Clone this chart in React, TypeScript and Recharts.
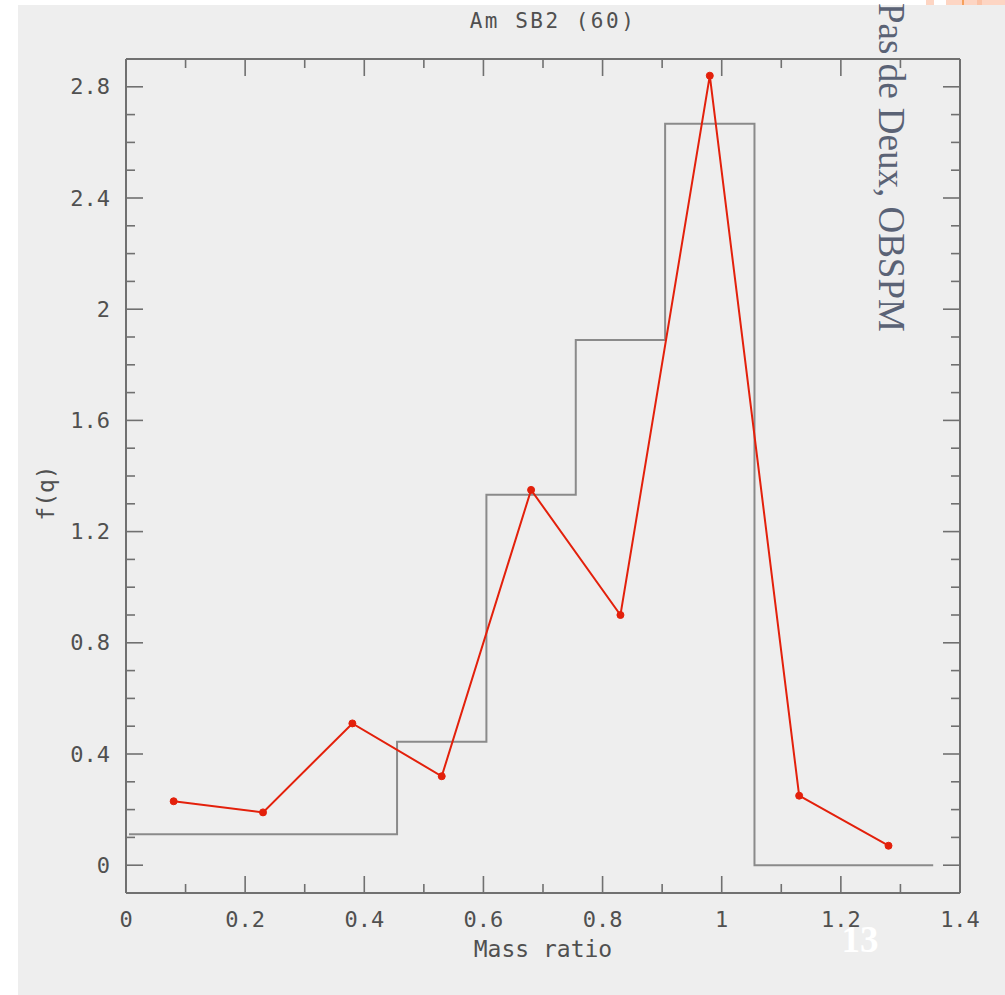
import React from 'react'
import { ComposedChart, Line, XAxis, YAxis } from 'recharts'

// histogram bins (width 0.15) and their f(q) levels
const binEdges = [0.005, 0.155, 0.305, 0.455, 0.605, 0.755, 0.905, 1.055, 1.205, 1.355]
const binHeights = [0.111, 0.111, 0.111, 0.444, 1.333, 1.889, 2.667, 0, 0]

// red curve
const massRatio = [0.08, 0.23, 0.38, 0.53, 0.68, 0.83, 0.98, 1.13, 1.28]
const fq = [0.23, 0.19, 0.51, 0.32, 1.35, 0.9, 2.84, 0.25, 0.07]

const xTicks = [0, 0.1, 0.2, 0.3, 0.4, 0.5, 0.6, 0.7, 0.8, 0.9, 1, 1.1, 1.2, 1.3, 1.4]
const yTicks = [
  -0.1, 0, 0.1, 0.2, 0.3, 0.4, 0.5, 0.6, 0.7, 0.8, 0.9, 1, 1.1, 1.2, 1.3, 1.4, 1.5,
  1.6, 1.7, 1.8, 1.9, 2, 2.1, 2.2, 2.3, 2.4, 2.5, 2.6, 2.7, 2.8, 2.9,
]

const histData = binEdges.map((x, i) => ({ x, y: binHeights[Math.min(i, binHeights.length - 1)] }))
const curveData = massRatio.map((x, i) => ({ x, y: fq[i] }))

const frame = '#707070'
const ink = '#505050'
const mono = '"DejaVu Sans Mono", monospace'

const majorX = (v: number) => Math.round(v * 10) % 2 === 0
const majorY = (v: number) => Math.round(v * 10) % 4 === 0
const fmt = (v: number) => String(Number(v.toFixed(1)))

function BottomTick({ x, y, payload }: any) {
  const v = payload.value
  const big = majorX(v)
  return (
    <g>
      <line x1={x} x2={x} y1={y} y2={y - (big ? 17 : 9)} stroke={frame} strokeWidth={1.6} />
      {big && (
        <text x={x} y={y + 26} textAnchor="middle" dominantBaseline="central" fontFamily={mono} fontSize={22} fill={ink}>
          {fmt(v)}
        </text>
      )}
    </g>
  )
}

function TopTick({ x, y, payload }: any) {
  const big = majorX(payload.value)
  return <line x1={x} x2={x} y1={y} y2={y + (big ? 17 : 9)} stroke={frame} strokeWidth={1.6} />
}

function LeftTick({ x, y, payload }: any) {
  const v = payload.value
  const big = majorY(v)
  return (
    <g>
      <line x1={x} x2={x + (big ? 17 : 9)} y1={y} y2={y} stroke={frame} strokeWidth={1.6} />
      {big && (
        <text x={x - 16} y={y} textAnchor="end" dominantBaseline="central" fontFamily={mono} fontSize={22} fill={ink}>
          {fmt(v)}
        </text>
      )}
    </g>
  )
}

function RightTick({ x, y, payload }: any) {
  const big = majorY(payload.value)
  return <line x1={x} x2={x - (big ? 17 : 9)} y1={y} y2={y} stroke={frame} strokeWidth={1.6} />
}

export default function App() {
  return (
    <div style={{ position: 'absolute', left: 0, top: 0, width: 1005, height: 995, background: '#fff' }}>
      <div style={{ position: 'absolute', left: 18, top: 5, width: 987, height: 990, background: '#eeeeee' }} />
      <div style={{ position: 'absolute', left: 926, top: 0, width: 8, height: 5, background: '#fdd5c3' }} />
      <div style={{ position: 'absolute', left: 946, top: 0, width: 59, height: 5, background: '#fdd5c3' }} />
      <div style={{ position: 'absolute', left: 962, top: 0, width: 2, height: 5, background: '#f5a15c' }} />
      <div style={{ position: 'absolute', left: 977, top: 0, width: 5, height: 5, background: '#fbc2a6' }} />
      <div style={{ position: 'absolute', left: 0, top: 0 }}>
        <ComposedChart width={1005} height={995} margin={{ top: 58, right: 44, bottom: 62, left: 66 }}>
          <XAxis
            xAxisId="bottom"
            type="number"
            dataKey="x"
            domain={[0, 1.4]}
            allowDataOverflow
            ticks={xTicks}
            interval={0}
            height={40}
            tickSize={0}
            tickMargin={0}
            tickLine={false}
            axisLine={{ stroke: frame, strokeWidth: 2 }}
            tick={<BottomTick />}
            label={{
              content: ({ viewBox }: any) => (
                <text
                  x={viewBox.x + viewBox.width / 2}
                  y={viewBox.y + 64}
                  textAnchor="middle"
                  fontFamily={mono}
                  fontSize={23}
                  fill={ink}
                >
                  Mass ratio
                </text>
              ),
            }}
          />
          <XAxis
            xAxisId="top"
            orientation="top"
            type="number"
            dataKey="x"
            domain={[0, 1.4]}
            allowDataOverflow
            ticks={xTicks}
            interval={0}
            height={1}
            tickSize={0}
            tickMargin={0}
            tickLine={false}
            axisLine={{ stroke: frame, strokeWidth: 2 }}
            tick={<TopTick />}
            label={{
              content: ({ viewBox }: any) => (
                <text
                  x={viewBox.x + viewBox.width / 2 + 10}
                  y={28}
                  textAnchor="middle"
                  fontFamily={mono}
                  fontSize={21}
                  letterSpacing={2.5}
                  fill={ink}
                >
                  Am SB2 (60)
                </text>
              ),
            }}
          />
          <YAxis
            yAxisId="left"
            type="number"
            domain={[-0.1, 2.9]}
            allowDataOverflow
            ticks={yTicks}
            interval={0}
            width={60}
            tickSize={0}
            tickMargin={0}
            tickLine={false}
            axisLine={{ stroke: frame, strokeWidth: 2 }}
            tick={<LeftTick />}
            label={{
              content: ({ viewBox }: any) => (
                <text
                  x={46}
                  y={493}
                  transform="rotate(-90 46 493)"
                  textAnchor="middle"
                  dominantBaseline="central"
                  fontFamily={mono}
                  fontSize={23}
                  fill={ink}
                >
                  f(q)
                </text>
              ),
            }}
          />
          <YAxis
            yAxisId="right"
            orientation="right"
            type="number"
            domain={[-0.1, 2.9]}
            allowDataOverflow
            ticks={yTicks}
            interval={0}
            width={1}
            tickSize={0}
            tickMargin={0}
            tickLine={false}
            axisLine={{ stroke: frame, strokeWidth: 2 }}
            tick={<RightTick />}
          />
          <Line
            xAxisId="top"
            yAxisId="right"
            data={histData}
            dataKey="y"
            type="stepAfter"
            stroke="#8a8a8a"
            strokeWidth={2}
            dot={false}
            isAnimationActive={false}
          />
          <Line
            xAxisId="bottom"
            yAxisId="left"
            data={curveData}
            dataKey="y"
            type="linear"
            stroke="#e3200b"
            strokeWidth={2}
            dot={{ r: 3.5, fill: '#e3200b', stroke: '#e3200b', strokeWidth: 1 }}
            isAnimationActive={false}
          />
        </ComposedChart>
      </div>
      <svg width={1005} height={995} style={{ position: 'absolute', left: 0, top: 0, pointerEvents: 'none' }}>
        <text
          transform="translate(879 3) rotate(90)"
          fontFamily='"Liberation Serif", serif'
          fontSize={37}
          fill="#5a6275"
        >
          Pas de Deux, OBSPM
        </text>
        <text
          x={860}
          y={952}
          textAnchor="middle"
          fontFamily='"Liberation Serif", serif'
          fontSize={37}
          fontWeight="bold"
          fill="#ffffff"
        >
          13
        </text>
      </svg>
    </div>
  )
}
